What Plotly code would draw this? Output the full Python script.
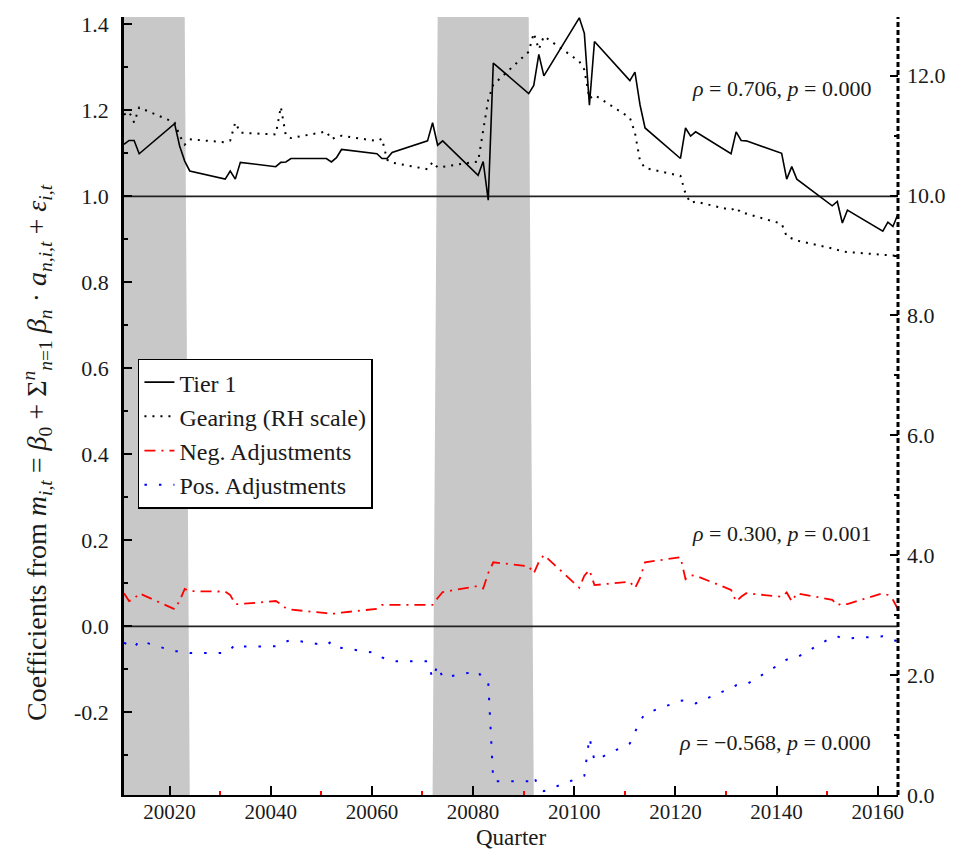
import plotly.graph_objects as go

# ---------------- data ----------------
quarters = [
    20011, 20012, 20013, 20014, 20021, 20022, 20023, 20024,
    20031, 20032, 20033, 20034, 20041, 20042, 20043, 20044,
    20051, 20052, 20053, 20054, 20061, 20062, 20063, 20064,
    20071, 20072, 20073, 20074, 20081, 20082, 20083, 20084,
    20091, 20092, 20093, 20094, 20101, 20102, 20103, 20104,
    20111, 20112, 20113, 20114, 20121, 20122, 20123, 20124,
    20131, 20132, 20133, 20134, 20141, 20142, 20143, 20144,
    20151, 20152, 20153, 20154, 20161, 20162, 20163, 20164,
]

tier1 = [
    1.121, 1.130, 1.130, 1.099,
    1.169, 1.117, 1.082, 1.059,
    1.040, 1.059, 1.040, 1.079,
    1.069, 1.079, 1.080, 1.088,
    1.088, 1.080, 1.090, 1.109,
    1.099, 1.088, 1.088, 1.102,
    1.129, 1.171, 1.119, 1.129,
    1.049, 1.081, 0.991, 1.310,
    1.239, 1.258, 1.330, 1.280,
    1.415, 1.379, 1.212, 1.360,
    1.269, 1.289, 1.213, 1.159,
    1.088, 1.159, 1.140, 1.150,
    1.099, 1.150, 1.130, 1.129,
    1.100, 1.040, 1.069, 1.040,
    0.978, 0.988, 0.938, 0.968,
    0.919, 0.940, 0.930, 0.959,
]

gearing = [
    11.35, 11.40, 11.22, 11.47,
    11.22, 11.00, 10.85, 10.94,
    10.89, 10.92, 11.22, 11.05,
    11.02, 11.48, 11.00, 10.96,
    11.07, 10.94, 10.98, 11.00,
    10.91, 10.95, 10.60, 10.55,
    10.44, 10.56, 10.47, 10.48,
    10.57, 11.08, 11.60, 11.85,
    12.40, 12.71, 12.44, 12.66,
    12.24, 12.10, 11.62, 11.68,
    11.30, 11.05, 10.58, 10.46,
    10.33, 10.03, 9.88, 9.90,
    9.76, 9.80, 9.71, 9.70,
    9.53, 9.32, 9.28, 9.25,
    9.12, 9.09, 9.07, 9.06,
    9.02, 9.01, 9.00, 8.99,
]

neg_adj = [
    0.077, 0.059, 0.064, 0.077,
    0.040, 0.060, 0.087, 0.082,
    0.081, 0.073, 0.052, 0.052,
    0.059, 0.052, 0.042, 0.039,
    0.031, 0.028, 0.031, 0.032,
    0.041, 0.050, 0.050, 0.050,
    0.050, 0.050, 0.066, 0.080,
    0.094, 0.088, 0.124, 0.149,
    0.140, 0.123, 0.150, 0.166,
    0.090, 0.118, 0.131, 0.096,
    0.104, 0.089, 0.112, 0.149,
    0.161, 0.110, 0.119, 0.118,
    0.085, 0.058, 0.069, 0.077,
    0.069, 0.079, 0.058, 0.077,
    0.062, 0.049, 0.054, 0.052,
    0.077, 0.073, 0.062, 0.040,
]

pos_adj = [
    -0.038, -0.045, -0.050, -0.033,
    -0.058, -0.058, -0.059, -0.062,
    -0.062, -0.054, -0.042, -0.047,
    -0.046, -0.040, -0.036, -0.031,
    -0.044, -0.035, -0.046, -0.050,
    -0.062, -0.072, -0.077, -0.081,
    -0.081, -0.121, -0.090, -0.119,
    -0.104, -0.125, -0.130, -0.360,
    -0.360, -0.347, -0.377, -0.383,
    -0.352, -0.347, -0.258, -0.312,
    -0.272, -0.247, -0.220, -0.203,
    -0.173, -0.172, -0.175, -0.179,
    -0.143, -0.137, -0.137, -0.135,
    -0.085, -0.077, -0.073, -0.072,
    -0.025, -0.023, -0.028, -0.028,
    -0.023, -0.025, -0.031, -0.035,
]

x_tick_vals = [20020, 20040, 20060, 20080, 20100, 20120, 20140, 20160]
x_tick_text = ["20020", "20040", "20060", "20080", "20100", "20120", "20140", "20160"]
x_minor_vals = [20030, 20050, 20070, 20090, 20110, 20130, 20150]

y_tick_vals = [-0.2, 0.0, 0.2, 0.4, 0.6, 0.8, 1.0, 1.2, 1.4]
y_tick_text = ["-0.2", "0.0", "0.2", "0.4", "0.6", "0.8", "1.0", "1.2", "1.4"]
y_minor_vals = [-0.3, -0.1, 0.1, 0.3, 0.5, 0.7, 0.9, 1.1, 1.3]

y2_tick_vals = [0, 2, 4, 6, 8, 10, 12]
y2_tick_text = ["0.0", "2.0", "4.0", "6.0", "8.0", "10.0", "12.0"]
y2_minor_vals = [1, 3, 5, 7, 9, 11]

# crisis shading periods (bottom edge, top edge)
shade_bottom = [(20011, 20024), (20072, 20092)]
shade_top = [(20011, 20023), (20073, 20091)]

ref_levels = [1.0, 0.0]

annotations_text = [
    "<i>ρ</i> = 0.706, <i>p</i> = 0.000",
    "<i>ρ</i> = 0.300, <i>p</i> = 0.001",
    "<i>ρ</i> = −0.568, <i>p</i> = 0.000",
]
annotations_y = [0.908, 0.336, 0.068]

FONT = '"Liberation Serif", "Times New Roman", Times, serif'
TXT = "#1a1a1a"

fig = go.Figure()

fig.add_trace(go.Scatter(x=quarters, y=tier1, name="Tier 1", mode="lines",
                         line=dict(color="black", width=1.6)))
fig.add_trace(go.Scatter(x=quarters, y=gearing, name="Gearing (RH scale)", mode="lines",
                         yaxis="y2", line=dict(color="black", width=2, dash="2px,6px")))
fig.add_trace(go.Scatter(x=quarters, y=neg_adj, name="Neg. Adjustments", mode="lines",
                         line=dict(color="red", width=1.8, dash="11px,6px,2px,6px")))
fig.add_trace(go.Scatter(x=quarters, y=pos_adj, name="Pos. Adjustments", mode="lines",
                         line=dict(color="blue", width=2, dash="2.5px,12px")))

shapes = []
for (b0, b1), (t0, t1) in zip(shade_bottom, shade_top):
    shapes.append(dict(type="path", xref="x", yref="paper",
                       path=f"M {b0},0 L {b1},0 L {t1},1 L {t0},1 Z",
                       fillcolor="#c8c8c8", line=dict(width=0), layer="below"))
for lv in ref_levels:
    shapes.append(dict(type="line", xref="paper", x0=0, x1=1, yref="y", y0=lv, y1=lv,
                       line=dict(color="#222222", width=1.6), layer="below"))
shapes.append(dict(type="line", xref="paper", x0=1, x1=1, yref="paper", y0=0, y1=1,
                   line=dict(color="black", width=3, dash="5px,3px"), layer="above"))

annots = []
for t, yy in zip(annotations_text, annotations_y):
    annots.append(dict(text=t, xref="paper", yref="paper", x=0.968, y=yy,
                       xanchor="right", yanchor="middle", showarrow=False,
                       font=dict(family=FONT, size=22, color=TXT)))
annots.append(dict(text="Quarter", xref="paper", yref="paper", x=0.5, y=-0.0715,
                   xanchor="center", yanchor="bottom", showarrow=False, borderpad=0,
                   font=dict(family=FONT, size=23, color=TXT)))
ylabel = ("Coefficients from <i>m</i><sub><i>i,t</i></sub> = <i>β</i><sub>0</sub> + "
          "Σ<sup><i>n</i></sup><sub><i>n</i>=1</sub> <i>β</i><sub><i>n</i></sub> · "
          "<i>a</i><sub><i>n,i,t</i></sub> + <i>ε</i><sub><i>i,t</i></sub>")
annots.append(dict(text=ylabel, xref="paper", yref="paper", x=-0.112, y=0.44,
                   xanchor="center", yanchor="middle", textangle=-90, showarrow=False,
                   font=dict(family=FONT, size=28, color=TXT)))

fig.update_layout(
    width=958, height=853,
    margin=dict(l=124, r=53, t=12, b=58),
    plot_bgcolor="white", paper_bgcolor="white",
    font=dict(family=FONT, size=21, color=TXT),
    showlegend=True,
    legend=dict(x=0.018, y=0.561, xanchor="left", yanchor="top",
                bgcolor="white", bordercolor="black", borderwidth=1.5,
                font=dict(family=FONT, size=24, color=TXT), tracegroupgap=0),
    shapes=shapes,
    annotations=annots,
    xaxis=dict(range=[20011, 20164], showline=True, linecolor="black", linewidth=2,
               ticks="inside", ticklen=9, tickwidth=1.5, tickcolor="black",
               tickmode="array", tickvals=x_tick_vals, ticktext=x_tick_text,
               minor=dict(tickmode="array", tickvals=x_minor_vals, ticks="inside",
                          ticklen=4, tickwidth=1.5, tickcolor="red", showgrid=False),
               showgrid=False, zeroline=False, ticklabelstandoff=-3,
               tickfont=dict(family=FONT, size=21, color=TXT)),
    yaxis=dict(range=[-0.392, 1.417], showline=True, linecolor="black", linewidth=2.5,
               ticks="inside", ticklen=8, tickwidth=1.5, tickcolor="black",
               tickmode="array", tickvals=y_tick_vals, ticktext=y_tick_text,
               minor=dict(tickmode="array", tickvals=y_minor_vals, ticks="inside",
                          ticklen=4, tickwidth=1.5, tickcolor="black", showgrid=False),
               showgrid=False, zeroline=False, ticklabelstandoff=8,
               tickfont=dict(family=FONT, size=22, color=TXT)),
    yaxis2=dict(range=[0, 12.98], overlaying="y", side="right", showline=False,
                ticks="inside", ticklen=8, tickwidth=1.5, tickcolor="black",
                tickmode="array", tickvals=y2_tick_vals, ticktext=y2_tick_text,
                minor=dict(tickmode="array", tickvals=y2_minor_vals, ticks="inside",
                           ticklen=4, tickwidth=1.5, tickcolor="black", showgrid=False),
                showgrid=False, zeroline=False, ticklabelstandoff=8,
                tickfont=dict(family=FONT, size=22, color=TXT)),
)

fig.write_html("out.html")
